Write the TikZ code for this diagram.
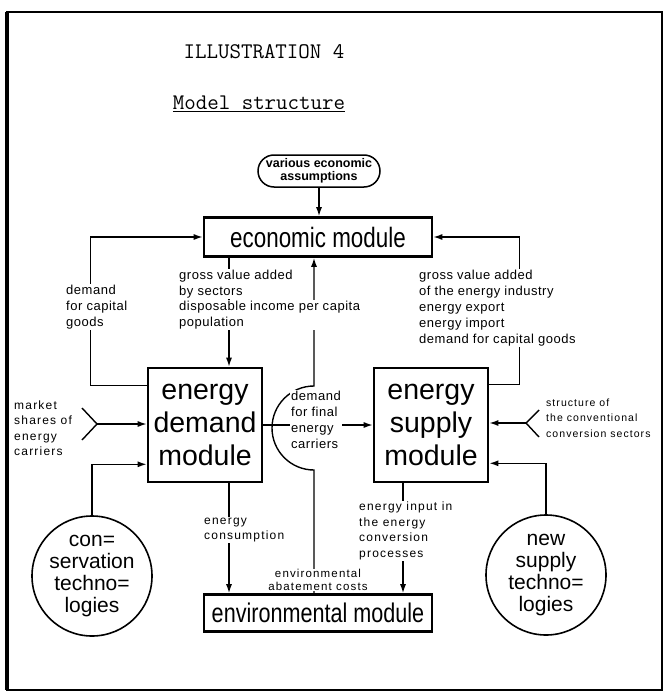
\documentclass[tikz,border=0pt]{standalone}
\usepackage{fontspec}
\setmainfont{Liberation Sans}
\newfontfamily\stencilfont[FakeStretch=0.8]{Liberation Sans}
\newfontfamily\labelfont[LetterSpace=4]{Liberation Sans}
\newfontfamily\spacedfont[LetterSpace=10]{Liberation Sans}
\usetikzlibrary{arrows.meta, positioning}
\tikzset{
	module/.style={draw, line width=2.6pt, inner sep=3pt, align=center},
	bigmodule/.style={module, minimum width=114pt, minimum height=114pt, font=\fontsize{28.5}{33}\selectfont},
	widemodule/.style={module, minimum width=228pt, minimum height=39pt, font=\stencilfont\fontsize{28}{30}\selectfont},
	techcircle/.style={draw, circle, line width=1.6pt, minimum size=120pt, inner sep=0pt, align=center, font=\fontsize{21}{22}\selectfont},
	flow/.style={line width=1.4pt},
	arrowflow/.style={flow, -{Latex[length=9pt,width=6pt]}},
	lbl/.style={align=left, fill=white, inner sep=1pt, font=\labelfont\fontsize{13}{16}\selectfont},
	spacedlbl/.style={lbl, font=\spacedfont\fontsize{12}{15.5}\selectfont},
}
\begin{document}
\begin{tikzpicture}[x=1pt, y=-1pt]
	\useasboundingbox (0,0) rectangle (665,693);
	\draw[line width=2pt] (7,12) rectangle (662,690);
	\draw[line width=4pt] (7,12) -- (7,690);

	\node (title) at (264,52) {\ttfamily\fontsize{22.3}{24}\selectfont ILLUSTRATION 4};
	\node (subtitle) at (259,104) {\ttfamily\fontsize{22.3}{24}\selectfont \underline{Model structure}};

	\node[draw, line width=1.5pt, rounded corners=16pt, minimum width=122pt, minimum height=32pt, inner sep=1pt,
		align=center, font=\bfseries\fontsize{12.5}{12.5}\selectfont] (assume) at (319,171) {various economic\\assumptions};

	\node[widemodule] (econ) at (318,237) {economic module};
	\node[bigmodule] (demand) at (205,425) {energy\\demand\\module};
	\node[bigmodule] (supply) at (431,425) {energy\\supply\\module};
	\node[widemodule, minimum height=37pt, font=\stencilfont\fontsize{27}{30}\selectfont] (env) at (318,613) {environmental module};
	\node[techcircle] (consv) at (92,576) {con=\\servation\\techno=\\logies};
	\node[techcircle] (newsup) at (546,575) {new\\supply\\techno=\\logies};

	\coordinate (dtop) at ([xshift=24pt]demand.north);
	\coordinate (dbot) at ([xshift=24pt]demand.south);
	\coordinate (sbot) at ([xshift=-28pt]supply.south);
	\coordinate (mfork) at (97,424);
	\coordinate (sfork) at (526,423);
	\coordinate (jump) at (314,428);

	\draw[arrowflow] (assume.south) -- (assume.south |- econ.north);
	\draw[arrowflow] ([yshift=-19pt]demand.north west) -- ++(-56,0) |- (econ.west);
	\draw[arrowflow] (dtop |- econ.south) -- (dtop);
	\draw[arrowflow] ([yshift=-18pt]supply.north east) -- ++(30,0) |- (econ.east);
	\draw[arrowflow] (demand) -- (supply);
	\draw[arrowflow] (jump |- env.north) -- ([yshift=-42pt]jump) arc (270:90:42pt) -- (jump |- econ.south);
	\draw[flow] ([shift={(-15,-16)}]mfork) -- (mfork) -- ([shift={(-15,16)}]mfork);
	\draw[arrowflow] (mfork) -- (mfork -| demand.west);
	\draw[flow] ([shift={(13,-13)}]sfork) -- (sfork) -- ([shift={(13,14)}]sfork);
	\draw[arrowflow] (sfork) -- (sfork -| supply.east);
	\draw[arrowflow] (consv.north) |- ([yshift=19pt]demand.south west);
	\draw[arrowflow] (newsup.north) |- ([yshift=20pt]supply.south east);
	\draw[arrowflow] (dbot) -- (dbot |- env.north);
	\draw[arrowflow] (sbot) -- (sbot |- env.north);

	\node[lbl, anchor=west] (capdem) at (65,307) {demand\\for capital\\goods};
	\node[lbl, anchor=west] (gva) at (178,284) {gross value added\\by sectors};
	\node[lbl, anchor=west] (income) at (178,315) {disposable income per capita\\population};
	\node[lbl, anchor=west] (gvaind) at (418,308) {gross value added\\of the energy industry\\energy export\\energy import\\demand for capital goods};
	\node[lbl, anchor=west] (finaldem) at (290,420) {demand\\for final\\energy\\carriers};
	\node[spacedlbl, anchor=west] (market) at (13,428) {market\\shares of\\energy\\carriers};
	\node[spacedlbl, anchor=west, font=\spacedfont\fontsize{10.5}{15.5}\selectfont] (convsec) at (545,418) {structure of\\the conventional\\conversion sectors};
	\node[spacedlbl, anchor=west] (consum) at (203,530) {energy\\consumption};
	\node[spacedlbl, anchor=west] (input) at (358,531) {energy input in\\the energy\\conversion\\processes};
	\node[lbl, align=center, font=\spacedfont\fontsize{11.5}{12.5}\selectfont] (abate) at (318,580) {environmental\\abatement costs};
\end{tikzpicture}
\end{document}
